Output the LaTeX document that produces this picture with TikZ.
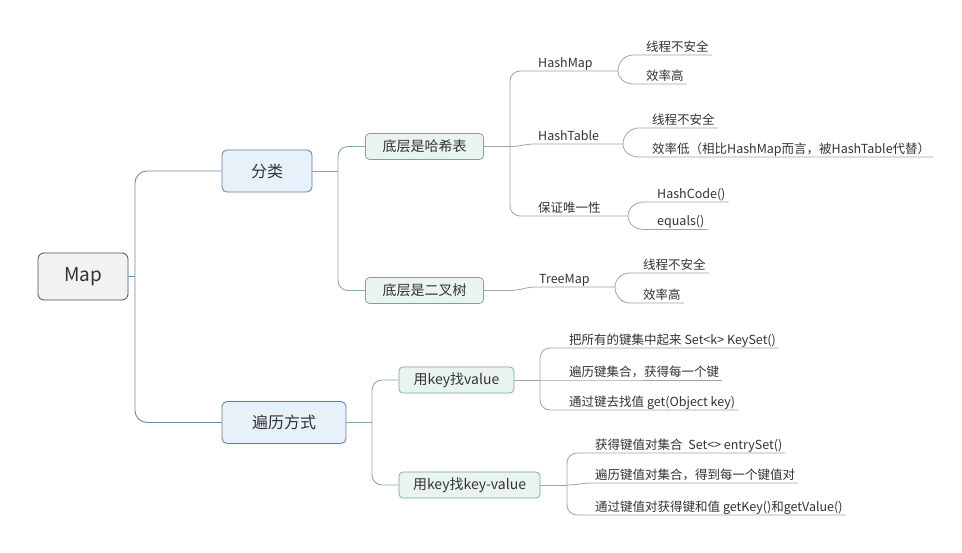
\documentclass[tikz,border=0pt]{standalone}
\usepackage{fontspec}
\setmainfont{Noto Sans CJK SC}
\definecolor{txt}{HTML}{333333}
\definecolor{rootborder}{HTML}{505050}
\definecolor{rootfill}{HTML}{F2F2F2}
\definecolor{catborder}{HTML}{5B7EA6}
\definecolor{catfill}{HTML}{E8F0F9}
\definecolor{subborder}{HTML}{76AA8A}
\definecolor{subfill}{HTML}{EAF4EE}
\definecolor{lineA}{HTML}{6D8CB0}
\definecolor{lineB}{HTML}{86AD9C}
\definecolor{lineC}{HTML}{A3A3A3}
\begin{document}
\begin{tikzpicture}[x=1pt,y=-1pt,
  rootbox/.style={draw=rootborder, fill=rootfill, rounded corners=6pt, line width=0.8pt, minimum width=90pt, minimum height=47pt, inner sep=0pt, text=txt, font=\fontsize{19}{22}\selectfont},
  catbox/.style={draw=catborder, fill=catfill, rounded corners=5pt, line width=0.8pt, minimum height=42pt, inner sep=0pt, text=txt, font=\fontsize{16}{19}\selectfont},
  subbox/.style={draw=subborder, fill=subfill, rounded corners=4pt, line width=0.7pt, minimum height=26pt, inner sep=0pt, text=txt, font=\fontsize{14}{17}\selectfont},
  leaf/.style={anchor=south west, inner xsep=3pt, inner ysep=0pt, text height=9pt, text depth=3.5pt, text=txt, font=\fontsize{12.5}{15}\selectfont},
  lA/.style={draw=lineA, line width=0.9pt},
  lB/.style={draw=lineB, line width=0.9pt},
  lC/.style={draw=lineC, line width=0.8pt}
]
\useasboundingbox (0,0) rectangle (962,553);
\fill[white] (0,0) rectangle (962,553);

% root and level 1
\node[rootbox] (map) at (83,276.5) {Map};
\node[catbox, minimum width=90pt] (cat) at (267,171) {分类};
\node[catbox, minimum width=124pt] (trav) at (284,422.5) {遍历方式};
\coordinate (J0) at (135,276.5);
\draw[lA] (map.east) -- (J0);
\draw[lA, rounded corners=12pt] (J0) |- (cat.west);
\draw[lA, rounded corners=12pt] (J0) |- (trav.west);

% level 2
\node[subbox, minimum width=118pt] (hash) at (424.5,146.5) {底层是哈希表};
\node[subbox, minimum width=118pt] (tree) at (424.5,290.5) {底层是二叉树};
\node[subbox, minimum width=115pt] (kv1) at (456.5,380) {用key找value};
\node[subbox, minimum width=141pt] (kv2) at (469.5,485) {用key找key-value};
\coordinate (J1) at (338,171);
\coordinate (J4) at (372,422.5);
\draw[lB] (cat.east) -- (J1);
\draw[lB, rounded corners=10pt] (J1) |- (hash.west);
\draw[lB, rounded corners=10pt] (J1) |- (tree.west);
\draw[lB] (trav.east) -- (J4);
\draw[lB, rounded corners=10pt] (J4) |- (kv1.west);
\draw[lB, rounded corners=10pt] (J4) |- (kv2.west);

% level 3 under hash / tree
\node[leaf] (hm) at (535,71) {HashMap};
\node[leaf] (ht) at (535,144) {HashTable};
\node[leaf] (uq) at (535,216) {保证唯一性};
\node[leaf] (tm) at (536,287) {TreeMap};
\coordinate (J2) at (510,146.5);
\coordinate (J3) at (510,290.5);
\coordinate (Fhm) at (618,71);
\coordinate (Fht) at (623,144);
\coordinate (Fuq) at (628,216);
\coordinate (Ftm) at (615,287);
\draw[lC] (hash.east) -- (J2);
\draw[lC, rounded corners=10pt] (J2) |- (hm.south west) -- (Fhm);
\draw[lC] (J2) to[out=0,in=180] (ht.south west) -- (Fht);
\draw[lC, rounded corners=10pt] (J2) |- (uq.south west) -- (Fuq);
\draw[lC] (tree.east) -- (J3) to[out=0,in=180] (tm.south west) -- (Ftm);

% level 4
\node[leaf] (a1) at (643,55) {线程不安全};
\node[leaf] (a2) at (643,84) {效率高};
\node[leaf] (b1) at (649,128) {线程不安全};
\node[leaf] (b2) at (649,157) {效率低（相比HashMap而言，被HashTable代替）};
\node[leaf] (c1) at (654,202) {HashCode()};
\node[leaf] (c2) at (654,229.5) {equals()};
\node[leaf] (d1) at (640,273) {线程不安全};
\node[leaf] (d2) at (640,303) {效率高};
\draw[lC] (a1.south east) -- ([xshift=-10pt]a1.south west) to[out=180,in=90] (Fhm) to[out=-90,in=180] ([xshift=-10pt]a2.south west) -- (a2.south east);
\draw[lC] (b1.south east) -- ([xshift=-10pt]b1.south west) to[out=180,in=90] (Fht) to[out=-90,in=180] ([xshift=-10pt]b2.south west) -- (b2.south east);
\draw[lC] (c1.south east) -- ([xshift=-10pt]c1.south west) to[out=180,in=90] (Fuq) to[out=-90,in=180] ([xshift=-10pt]c2.south west) -- (c2.south east);
\draw[lC] (d1.south east) -- ([xshift=-10pt]d1.south west) to[out=180,in=90] (Ftm) to[out=-90,in=180] ([xshift=-10pt]d2.south west) -- (d2.south east);

% traversal leaves
\node[leaf] (e1) at (566,348) {把所有的键集中起来 Set<k> KeySet()};
\node[leaf] (e2) at (566,380) {遍历键集合，获得每一个键};
\node[leaf] (e3) at (566,410) {通过键去找值 get(Object key)};
\node[leaf] (f1) at (592,453) {获得键值对集合\ \ Set<> entrySet()};
\node[leaf] (f2) at (592,483) {遍历键值对集合，得到每一个键值对};
\node[leaf] (f3) at (592,515) {通过键值对获得键和值 getKey()和getValue()};
\coordinate (J5) at (540,380);
\coordinate (J6) at (567,485);
\draw[lC] (kv1.east) -- (J5);
\draw[lC, rounded corners=10pt] (J5) |- (e1.south west) -- (e1.south east);
\draw[lC] (J5) -- (e2.south west) -- (e2.south east);
\draw[lC, rounded corners=10pt] (J5) |- (e3.south west) -- (e3.south east);
\draw[lC] (kv2.east) -- (J6);
\draw[lC, rounded corners=10pt] (J6) |- (f1.south west) -- (f1.south east);
\draw[lC] (J6) to[out=0,in=180] (f2.south west) -- (f2.south east);
\draw[lC, rounded corners=10pt] (J6) |- (f3.south west) -- (f3.south east);
\end{tikzpicture}
\end{document}
